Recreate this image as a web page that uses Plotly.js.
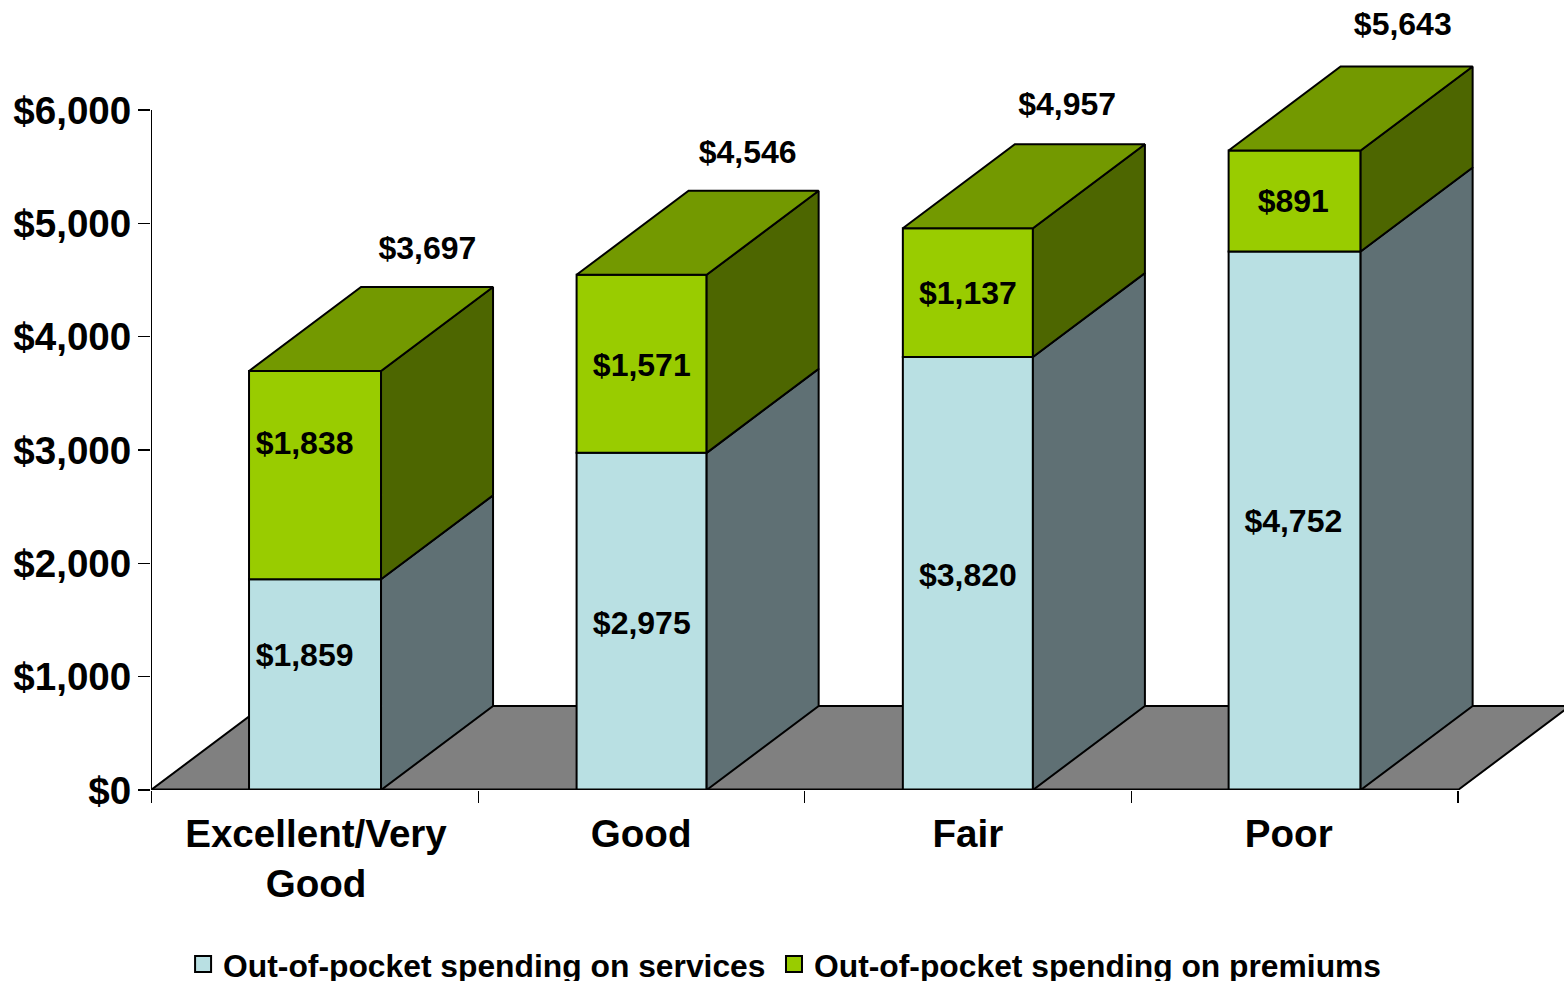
<!DOCTYPE html>
<html>
<head>
<meta charset="utf-8">
<script src="https://cdn.plot.ly/plotly-3.0.1.min.js"></script>
<style>html,body{margin:0;padding:0;background:#fff;overflow:hidden}</style>
</head>
<body>
<div id="chart" style="width:1564px;height:981px"></div>
<script>
// ---- data ----
const categories = ["Excellent/Very<br>Good", "Good", "Fair", "Poor"];
const services = [1859, 2975, 3820, 4752];
const premiums = [1838, 1571, 1137, 891];
const totals = [3697, 4546, 4957, 5643];
const seriesNames = ["Out-of-pocket spending on services", "Out-of-pocket spending on premiums"];
const yTicks = [0, 1000, 2000, 3000, 4000, 5000, 6000];

// ---- label placement and pseudo-3D geometry (not data) ----
const catLabelX = [0.005, 0, 0, -0.018];
const labelX = [-0.03, 0.002, 0, -0.004];
const servicesLabelY = [1165, 1447, 1871, 2347];
const premiumsLabelY = [3036, 3724, 4359, 5171];
const totalsLabelDx = [0.346, 0.326, 0.304, 0.331];
const totalsLabelDy = [1062, 1053, 1071, 1088];
const depthX = 0.3428, depthY = 741;
const barCenter = [0.002, 0.0015, 0, 0];
const barW = [0.404, 0.398, 0.398, 0.404];
const FONT = '"Liberation Sans", Arial, sans-serif';
const colors = {
  front1: "#B9E0E3", side1: "#5F7074",
  front2: "#99CC00", side2: "#4D6600", top2: "#739900", floor: "#808080"
};
const pos = categories.map((_, i) => i);
const barX = pos.map(i => i + barCenter[i]);
const money = v => "$" + v.toLocaleString("en-US");

function polys(list) {
  const x = [], y = [];
  list.forEach(p => { p.forEach(c => { x.push(c[0]); y.push(c[1]); }); x.push(p[0][0], null); y.push(p[0][1], null); });
  return {x, y};
}
function polyTrace(list, fill, z) {
  return Object.assign(polys(list), {
    type: "scatter", mode: "lines", fill: "toself", fillcolor: fill,
    line: {color: "#000", width: 2}, hoverinfo: "skip", showlegend: false, zorder: z
  });
}
const xR = pos.map(i => barX[i] + barW[i] / 2);
const xL = pos.map(i => barX[i] - barW[i] / 2);

const floor = polyTrace([[[-0.5, 0], [-0.5 + depthX, depthY], [3.5 + depthX, depthY], [3.5, 0]]], colors.floor, 0);

const bar = (vals, name, color, base) => ({
  type: "bar", x: barX, y: vals, width: barW, name: name, base: base,
  marker: {color: color, line: {color: "#000", width: 2}}, hoverinfo: "skip", showlegend: false, zorder: 1
});
const frontServices = bar(services, seriesNames[0], colors.front1, undefined);
const frontPremiums = bar(premiums, seriesNames[1], colors.front2, services);

const sideServices = polyTrace(pos.map(i => [
  [xR[i], 0], [xR[i] + depthX, depthY], [xR[i] + depthX, services[i] + depthY], [xR[i], services[i]]
]), colors.side1, 2);
const sidePremiums = polyTrace(pos.map(i => [
  [xR[i], services[i]], [xR[i] + depthX, services[i] + depthY], [xR[i] + depthX, totals[i] + depthY], [xR[i], totals[i]]
]), colors.side2, 2);
const tops = polyTrace(pos.map(i => [
  [xL[i], totals[i]], [xL[i] + depthX, totals[i] + depthY], [xR[i] + depthX, totals[i] + depthY], [xR[i], totals[i]]
]), colors.top2, 2);

const textTrace = (x, y, vals) => ({
  type: "scatter", mode: "text", x: x, y: y, text: vals.map(money), textposition: "middle center",
  textfont: {family: FONT, size: 32, color: "#000", weight: 700}, hoverinfo: "skip",
  showlegend: false, cliponaxis: false, zorder: 4
});
const labels = [
  textTrace(pos.map(i => i + labelX[i]), servicesLabelY, services),
  textTrace(pos.map(i => i + labelX[i]), premiumsLabelY, premiums),
  textTrace(pos.map(i => i + totalsLabelDx[i]), totals.map((t, i) => t + totalsLabelDy[i]), totals)
];

const yLine = {
  type: "scatter", mode: "lines", x: [-0.5, -0.5], y: [yTicks[yTicks.length - 1], 0],
  line: {color: "#000", width: 2}, hoverinfo: "skip", showlegend: false, cliponaxis: false, zorder: 3
};
const xLine = {
  type: "scatter", mode: "lines", x: [-0.5, 3.5], y: [0, 0],
  line: {color: "#000", width: 3}, hoverinfo: "skip", showlegend: false, cliponaxis: false, zorder: 3
};

const legendEntry = (name, color, legendId) => ({
  type: "scatter", mode: "markers", x: [null], y: [null], name: name, legend: legendId,
  marker: {symbol: "square", size: 16, color: color, line: {color: "#000", width: 2}}, hoverinfo: "skip"
});
const legendBox = x => ({
  orientation: "h", x: x, xref: "paper", xanchor: "left", y: -0.186, yanchor: "top",
  font: {family: FONT, size: 31.8, color: "#000", weight: 700}, bgcolor: "rgba(0,0,0,0)", itemwidth: 30
});

const xRange = [-0.5, 3.8244];
const layout = {
  width: 1564, height: 981, paper_bgcolor: "#fff", plot_bgcolor: "rgba(0,0,0,0)",
  margin: {l: 151, r: 0, t: 0, b: 191, pad: 0, autoexpand: false},
  barmode: "overlay", showlegend: true,
  font: {family: FONT, color: "#000"},
  xaxis: {
    type: "linear", range: xRange, fixedrange: true, showgrid: false, zeroline: false, showline: false,
    tickmode: "array", tickvals: pos.map(i => i + catLabelX[i]), ticktext: categories, ticks: "",
    ticklabelstandoff: 17, tickfont: {family: FONT, size: 38.6, color: "#000", weight: 700}
  },
  xaxis2: {
    type: "linear", range: xRange, overlaying: "x", anchor: "y", side: "bottom", fixedrange: true,
    showgrid: false, zeroline: false, showline: false, showticklabels: false,
    tickmode: "array", tickvals: [-0.498, 0.502, 1.5, 2.5, 3.5], ticks: "outside", ticklen: 12, tickwidth: 1.5, tickcolor: "#000"
  },
  yaxis: {
    type: "linear", range: [0, 6970.6], fixedrange: true, showgrid: false, zeroline: false, showline: false,
    tickmode: "array", tickvals: yTicks, ticktext: yTicks.map(money), ticks: "outside", ticklen: 12, tickwidth: 1.5, tickcolor: "#000",
    ticklabelstandoff: -1, tickfont: {family: FONT, size: 38.6, color: "#000", weight: 700}
  },
  legend: legendBox(0.0227),
  legend2: legendBox(0.4409)
};
const ticksHolder = {type: "scatter", mode: "markers", x: [null], y: [null], xaxis: "x2", yaxis: "y", showlegend: false, hoverinfo: "skip"};

Plotly.newPlot("chart", [
  floor, frontServices, frontPremiums, sideServices, sidePremiums, tops, yLine, xLine,
  labels[0], labels[1], labels[2],
  legendEntry(seriesNames[0], colors.front1, "legend"), legendEntry(seriesNames[1], colors.front2, "legend2"), ticksHolder
], layout, {displayModeBar: false, staticPlot: true});
</script>
</body>
</html>
